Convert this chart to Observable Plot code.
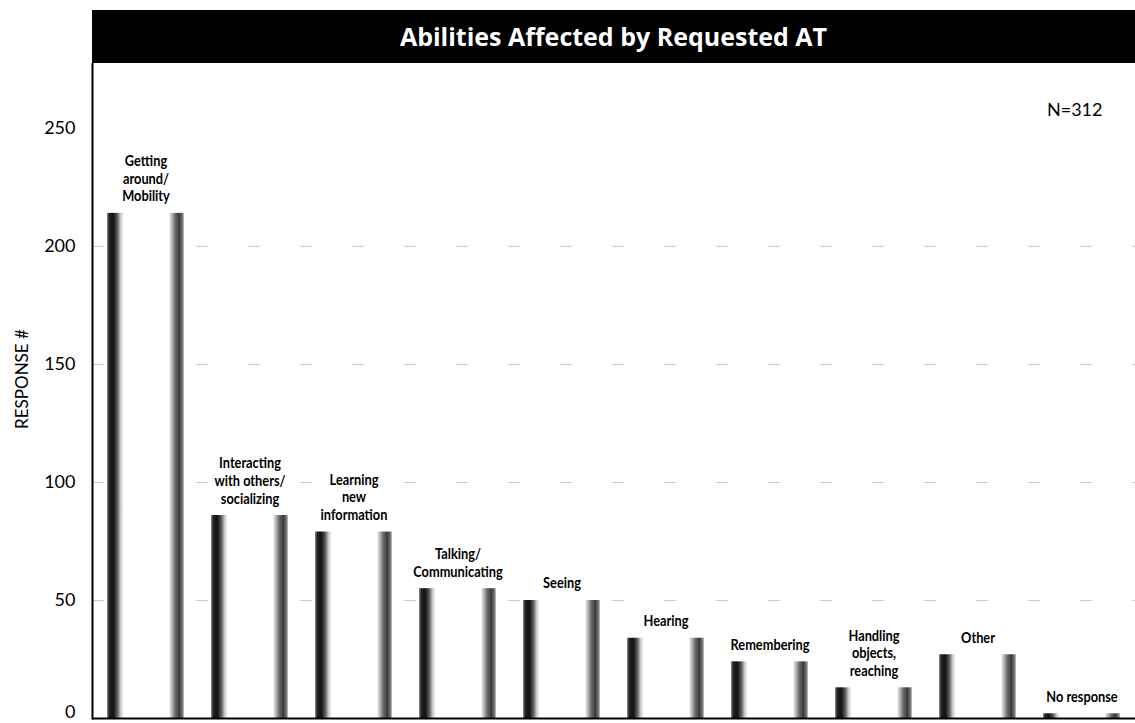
<!DOCTYPE html>
<html>
<head>
<meta charset="utf-8">
<script src="https://cdn.jsdelivr.net/npm/d3@7"></script>
<script src="https://cdn.jsdelivr.net/npm/@observablehq/plot@0.6"></script>
<style>
  html, body { margin: 0; padding: 0; background: #fff; }
  #title {
    margin: 10px 0 0 92px; width: 1043px; height: 53px; background: #000; color: #fff;
    font: bold 25px "Open Sans", Lato, sans-serif; text-align: center; line-height: 53px;
  }
  #chart svg { display: block; }
</style>
</head>
<body>
<div id="title">Abilities Affected by Requested AT</div>
<div id="chart"></div>
<script>
const categories = ["Getting around/Mobility", "Interacting with others/socializing", "Learning new information", "Talking/Communicating", "Seeing", "Hearing", "Remembering", "Handling objects, reaching", "Other", "No response"];
const labels = ["Getting\naround/\nMobility", "Interacting\nwith others/\nsocializing", "Learning\nnew\ninformation", "Talking/\nCommunicating", "Seeing", "Hearing", "Remembering", "Handling\nobjects,\nreaching", "Other", "No response"];
const responses = [214, 86, 79, 55, 50, 34, 24, 13, 27, 2];
const yTicks = [50, 100, 150, 200, 250];
const yZeroTick = [0];
const gridValues = [50, 100, 150, 200];
const sampleNote = "N=312";
const yTitle = "RESPONSE #";

const data = categories.map((c, i) => ({category: c, label: labels[i], value: responses[i]}));

const chart = Plot.plot({
  width: 1135,
  height: 660,
  marginLeft: 92,
  marginRight: 0,
  marginTop: 0,
  marginBottom: 5,
  style: {fontFamily: "Lato, sans-serif", background: "#fff"},
  x: {domain: categories, paddingInner: 0.26, paddingOuter: 0.12, axis: null},
  y: {domain: [0, 277.5]},
  marks: [
    Plot.ruleY(gridValues, {stroke: "#888", strokeOpacity: 0.45, strokeDasharray: "12 40"}),
    Plot.barY(data, {x: "category", y: "value", fill: "url(#cyl)"}),
    Plot.text(data, {x: "category", y: "value", text: "label", lineAnchor: "bottom", dy: -12,
      fontSize: 16, lineHeight: 1.1, fontWeight: "bold", fontFamily: "Lato, sans-serif", fill: "#000"}),
    Plot.axisY({ticks: yTicks, tickSize: 0, tickPadding: 17, fontSize: 18, label: null, color: "#000"}),
    Plot.axisY({ticks: yZeroTick, tickSize: 0, tickPadding: 17, fontSize: 18, label: null, color: "#000", dy: -6}),
    Plot.text([yTitle], {frameAnchor: "left", rotate: -90, dx: -70, dy: -12, textAnchor: "middle", fontSize: 17, fill: "#000"}),
    Plot.ruleY([0], {stroke: "#000", strokeWidth: 2}),
    Plot.frame({anchor: "left", stroke: "#000", strokeWidth: 2}),
    Plot.text([sampleNote], {frameAnchor: "top-right", dx: -33, dy: 47, lineAnchor: "middle", textAnchor: "end", fontSize: 18, fill: "#000"})
  ]
});

chart.insertAdjacentHTML("afterbegin", `<defs>
  <linearGradient id="cyl" x1="0" x2="1" y1="0" y2="0">
    <stop offset="0" stop-color="#8a8a8a"/>
    <stop offset="0.03" stop-color="#222"/>
    <stop offset="0.08" stop-color="#111"/>
    <stop offset="0.13" stop-color="#555"/>
    <stop offset="0.18" stop-color="#cfcfcf"/>
    <stop offset="0.22" stop-color="#fff"/>
    <stop offset="0.80" stop-color="#fff"/>
    <stop offset="0.84" stop-color="#bbb"/>
    <stop offset="0.89" stop-color="#666"/>
    <stop offset="0.94" stop-color="#3a3a3a"/>
    <stop offset="0.98" stop-color="#777"/>
    <stop offset="1" stop-color="#ccc"/>
  </linearGradient>
</defs>`);

// condense the bar labels horizontally (Gill Sans Condensed look)
const labelGroup = chart.querySelectorAll('g[aria-label="text"]')[0];
if (labelGroup) {
  labelGroup.querySelectorAll("text").forEach(t => {
    const tr = t.getAttribute("transform") || "";
    t.setAttribute("transform", tr + " scale(0.8,1)");
  });
}

document.getElementById("chart").appendChild(chart);
</script>
</body>
</html>
